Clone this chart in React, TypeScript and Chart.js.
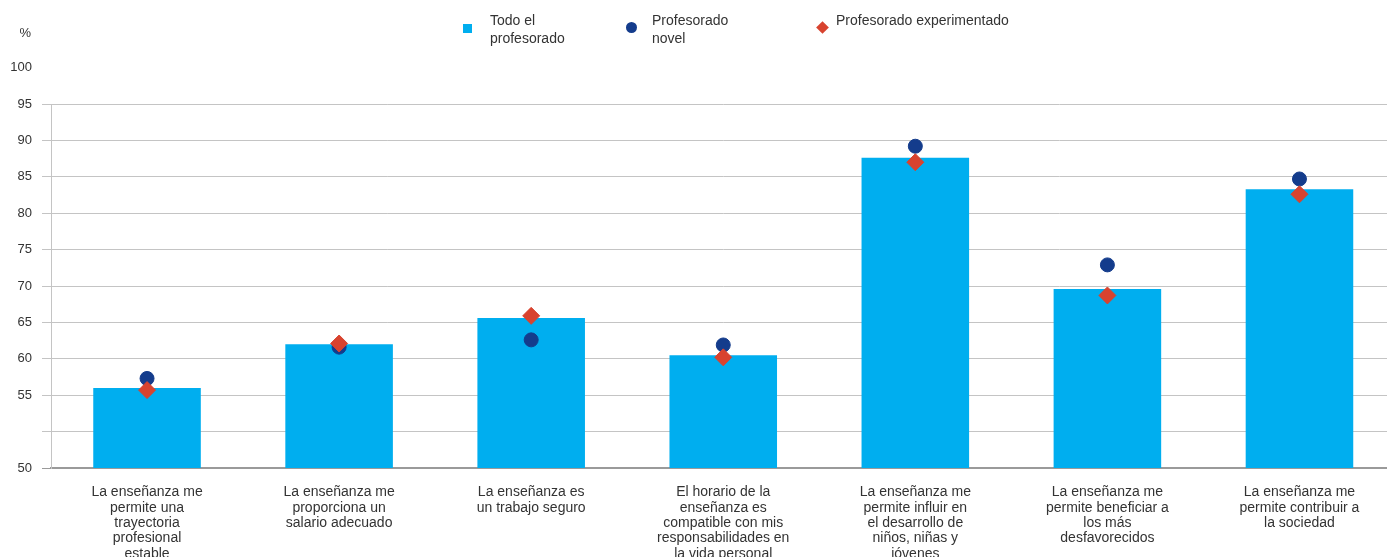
import React, { useEffect, useRef } from "react";
import { Chart, registerables } from "chart.js";

Chart.register(...registerables);

const categories: string[][] = [
  ["La enseñanza me", "permite una", "trayectoria", "profesional", "estable"],
  ["La enseñanza me", "proporciona un", "salario adecuado"],
  ["La enseñanza es", "un trabajo seguro"],
  ["El horario de la", "enseñanza es", "compatible con mis", "responsabilidades en", "la vida personal"],
  ["La enseñanza me", "permite influir en", "el desarrollo de", "niños, niñas y", "jóvenes"],
  ["La enseñanza me", "permite beneficiar a", "los más", "desfavorecidos"],
  ["La enseñanza me", "permite contribuir a", "la sociedad"],
];

const todoValues = [56.0, 62.0, 65.6, 60.5, 87.6, 69.6, 83.3];
const novelValues = [57.3, 61.6, 62.6, 61.9, 89.2, 72.9, 84.7];
const experimentadoValues = [55.7, 62.1, 65.9, 60.2, 87.0, 68.7, 82.6];

const seriesNames = ["Todo el profesorado", "Profesorado novel", "Profesorado experimentado"];
const yTickLabels: Record<number, string> = { 95: "95", 90: "90", 85: "85", 80: "80", 75: "75", 70: "70", 65: "65", 60: "60", 55: "55", 50: "", 45: "50" };

const FONT = "'Liberation Sans', Arial, sans-serif";
const TEXT = "#333333";
const BAR = "#00AEEF";
const NAVY = "#143C8C";
const RED = "#D8432F";
const CANVAS_W = 1405;

export default function App() {
  const ref = useRef<HTMLCanvasElement | null>(null);

  useEffect(() => {
    if (!ref.current) return;
    const extra = {
      id: "extraText",
      afterDraw(chart: any) {
        const ctx = chart.ctx;
        const y = chart.scales.y;
        ctx.save();
        ctx.font = `13px ${FONT}`;
        ctx.fillStyle = TEXT;
        ctx.textAlign = "right";
        ctx.textBaseline = "middle";
        ctx.fillText("100", 32, y.getPixelForValue(100));
        ctx.fillText("%", 31, 33);
        ctx.restore();
      },
    };
    const chart = new Chart(ref.current, {
      type: "bar",
      data: {
        labels: categories,
        datasets: [
          {
            type: "scatter" as any,
            label: seriesNames[1],
            data: novelValues,
            backgroundColor: NAVY,
            borderColor: NAVY,
            pointStyle: "circle",
            pointRadius: 7,
            order: 1,
          } as any,
          {
            type: "scatter" as any,
            label: seriesNames[2],
            data: experimentadoValues,
            backgroundColor: RED,
            borderColor: RED,
            pointStyle: "rectRot",
            pointRadius: 8.5,
            order: 0,
          } as any,
          {
            type: "bar",
            label: seriesNames[0],
            data: todoValues,
            backgroundColor: BAR,
            barPercentage: 0.56,
            categoryPercentage: 1,
            order: 2,
          },
        ],
      },
      options: {
        animation: false,
        responsive: false,
        maintainAspectRatio: false,
        layout: { padding: { top: 104, right: 0, left: 0, bottom: 0 } },
        plugins: { legend: { display: false }, tooltip: { enabled: false } },
        scales: {
          x: {
            type: "category",
            grid: { display: false },
            border: { color: "#9a9a9a", width: 2 },
            ticks: {
              color: TEXT,
              font: { family: FONT, size: 14, lineHeight: 1.09 },
              padding: 9,
              maxRotation: 0,
              autoSkip: false,
            },
            afterFit: (s: any) => {
              s.height = 89;
            },
          },
          y: {
            min: 45,
            max: 95,
            ticks: {
              stepSize: 5,
              color: TEXT,
              padding: 10,
              font: { family: FONT, size: 13 },
              callback: (v: any) => yTickLabels[Number(v)] ?? "",
            },
            grid: {
              color: (c: any) => (c.tick && c.tick.value === 45 ? "#9a9a9a" : "#c4c4c4"),
              tickLength: 9,
              lineWidth: 1,
            },
            border: { color: "#c4c4c4", width: 1 },
            afterFit: (s: any) => {
              s.width = 51;
            },
          },
        },
      } as any,
      plugins: [extra],
    });
    return () => chart.destroy();
  }, []);

  const legendText: React.CSSProperties = {
    position: "absolute",
    fontFamily: FONT,
    fontSize: 14,
    lineHeight: "18px",
    color: TEXT,
  };

  return (
    <div style={{ position: "absolute", left: 0, top: 0, width: 1387, height: 557, overflow: "hidden", background: "#fff" }}>
      <canvas ref={ref} width={CANVAS_W} height={557} style={{ position: "absolute", left: 0, top: 0, width: CANVAS_W, height: 557 }} />
      <div style={{ position: "absolute", left: 463, top: 24, width: 9, height: 9, background: BAR }} />
      <div style={{ ...legendText, left: 490, top: 11 }}>Todo el<br />profesorado</div>
      <div style={{ position: "absolute", left: 626, top: 22, width: 11, height: 11, borderRadius: "50%", background: NAVY }} />
      <div style={{ ...legendText, left: 652, top: 11 }}>Profesorado<br />novel</div>
      <div style={{ position: "absolute", left: 818, top: 23, width: 9, height: 9, background: RED, transform: "rotate(45deg)" }} />
      <div style={{ ...legendText, left: 836, top: 11 }}>Profesorado experimentado</div>
    </div>
  );
}
